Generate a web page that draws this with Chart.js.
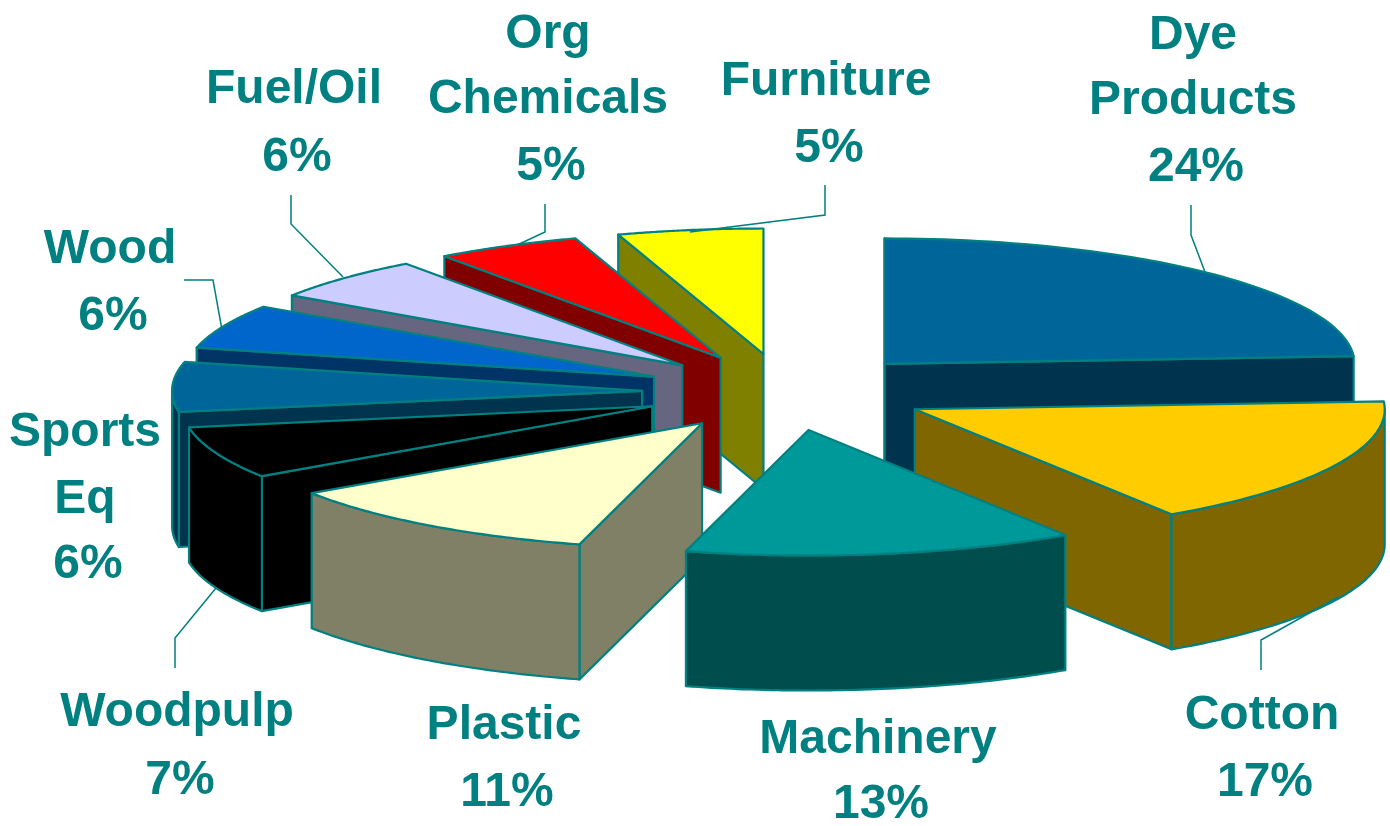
<!DOCTYPE html>
<html>
<head>
<meta charset="utf-8">
<style>
html, body { margin: 0; padding: 0; background: #fff; }
canvas { display: block; }
</style>
<script src="https://cdn.jsdelivr.net/npm/chart.js@4/dist/chart.umd.js"></script>
</head>
<body>
<canvas id="pie" width="1390" height="826"></canvas>
<script>
// data
const categories = ["Dye Products", "Cotton", "Machinery", "Plastic", "Woodpulp", "Sports Eq", "Wood", "Fuel/Oil", "Org Chemicals", "Furniture"];
const shares = [24, 16.8, 13.4, 11.4, 6.7, 6.4, 5.7, 5.6, 5, 5];

// colours: top face, side wall
const topColors = ["#006699", "#ffcc00", "#009999", "#ffffcc", "#000000", "#006699", "#0066cc", "#ccccff", "#ff0000", "#ffff00"];
const wallColors = ["#00334d", "#806600", "#004d4d", "#808066", "#000000", "#00334d", "#003366", "#666680", "#800000", "#808000"];
const edgeColor = "#008080";
const textColor = "#008080";

// look of the 3d pie
const radiusX = 470;
const radiusY = 125.5;
const explode = 144 / 470;      // every slice pulled out the same, part of radius
const depth = 135;              // wall height

// label lines, [center x, center y of each line]
const labelLayout = [
    { x: 1193, y: [36, 101, 168], lines: ["Dye", "Products"] },
    { x: 1262, y: [716, 783], lines: ["Cotton"] },
    { x: 878, y: [740, 805], lines: ["Machinery"] },
    { x: 504, y: [726, 793], lines: ["Plastic"] },
    { x: 177, y: [713, 781], lines: ["Woodpulp"] },
    { x: 85, y: [433, 500, 565], lines: ["Sports", "Eq"] },
    { x: 110, y: [250, 317], lines: ["Wood"] },
    { x: 294, y: [90, 158], lines: ["Fuel/Oil"] },
    { x: 548, y: [35, 100, 167], lines: ["Org", "Chemicals"] },
    { x: 826, y: [82, 149], lines: ["Furniture"] }
];
const percentShift = 3;     // the % rows sit a bit to the right

// leader lines
const leaders = [
    [[1191, 205], [1191, 235], [1205, 272]],
    [[1261, 670], [1261, 640], [1338, 597]],
    [[175, 668], [175, 638], [216, 588]],
    [[184, 280], [213, 280], [222, 330]],
    [[291, 195], [291, 224], [343, 277]],
    [[545, 204], [545, 232], [515, 246]],
    [[825, 185], [825, 215], [690, 232]]
];

// chart.js angle (0 = 3 o'clock) -> page position on the tilted pie
function project(arc, angle, r, drop) {
    const mid = (arc.startAngle + arc.endAngle) / 2;
    const R = arc.outerRadius;
    const px = Math.cos(mid) * R * explode + Math.cos(angle) * r;
    const py = Math.sin(mid) * R * explode + Math.sin(angle) * r;
    return { x: arc.x + px * radiusX / R, y: arc.y + py * radiusY / R + (drop || 0) };
}

// rim of a slice from a to b, following the ellipse in small steps
function traceRim(ctx, arc, a, b, drop, reverse) {
    const steps = 60;
    for (let i = 0; i <= steps; i++) {
        const t = reverse ? (steps - i) / steps : i / steps;
        const p = project(arc, a + (b - a) * t, arc.outerRadius, drop);
        ctx.lineTo(p.x, p.y);
    }
}

function paintFace(ctx, fill) {
    ctx.closePath();
    ctx.fillStyle = fill;
    ctx.fill();
    ctx.lineWidth = 2.2;
    ctx.strokeStyle = edgeColor;
    ctx.stroke();
}

function drawRadialWall(ctx, arc, angle, fill) {
    const apex = project(arc, angle, 0);
    const rim = project(arc, angle, arc.outerRadius);
    ctx.beginPath();
    ctx.moveTo(apex.x, apex.y);
    ctx.lineTo(rim.x, rim.y);
    ctx.lineTo(rim.x, rim.y + depth);
    ctx.lineTo(apex.x, apex.y + depth);
    paintFace(ctx, fill);
}

function drawSlice(ctx, arc, i) {
    const wall = wallColors[i];
    const start = arc.startAngle, end = arc.endAngle;

    // radial walls: canvas angle, sin/cos facing check
    if (Math.cos(start) < 0 || Math.sin(start) < -0.999) drawRadialWall(ctx, arc, start, wall);
    if (Math.cos(end) > 0) drawRadialWall(ctx, arc, end, wall);

    // outer wall, only the front half of the ellipse (canvas angle 0..PI)
    const a = Math.max(start, 0), b = Math.min(end, Math.PI);
    if (b > a) {
        ctx.beginPath();
        traceRim(ctx, arc, a, b, 0, false);
        traceRim(ctx, arc, a, b, depth, true);
        paintFace(ctx, wall);
    }

    // top
    const apex = project(arc, start, 0);
    ctx.beginPath();
    ctx.moveTo(apex.x, apex.y);
    traceRim(ctx, arc, start, end, 0, false);
    paintFace(ctx, topColors[i]);
}

const pie3d = {
    id: 'pie3d',
    beforeDatasetDraw(chart, args) {
        const ctx = chart.ctx;
        const arcs = args.meta.data.map((arc, i) => ({ arc, i }));
        // back slices first
        arcs.sort((p, q) => Math.sin((p.arc.startAngle + p.arc.endAngle) / 2) - Math.sin((q.arc.startAngle + q.arc.endAngle) / 2));
        ctx.save();
        ctx.lineJoin = 'round';
        arcs.forEach(p => drawSlice(ctx, p.arc, p.i));
        ctx.restore();
        return false;   // slices are done here, skip the flat pie
    },
    afterDraw(chart) {
        const ctx = chart.ctx;
        ctx.save();
        ctx.strokeStyle = edgeColor;
        ctx.lineWidth = 1.5;
        leaders.forEach(pts => {
            ctx.beginPath();
            pts.forEach((p, k) => k ? ctx.lineTo(p[0], p[1]) : ctx.moveTo(p[0], p[1]));
            ctx.stroke();
        });
        ctx.fillStyle = textColor;
        ctx.font = 'bold 48px "Liberation Sans"';
        ctx.textAlign = 'center';
        ctx.textBaseline = 'middle';
        labelLayout.forEach((lab, i) => {
            lab.lines.forEach((row, k) => ctx.fillText(row, lab.x, lab.y[k]));
            ctx.fillText(Math.round(shares[i]) + '%', lab.x + percentShift, lab.y[lab.lines.length]);
        });
        ctx.restore();
    }
};

new Chart(document.getElementById("pie"), {
    type: "pie",
    data: {
        labels: categories,
        datasets: [{
            data: shares,
            backgroundColor: topColors,
            borderWidth: 0
        }]
    },
    options: {
        responsive: false,
        animation: false,
        layout: {
            padding: { left: 182, right: 0, top: 0, bottom: 42 }   // pie center ends up at 786,392
        },
        plugins: {
            legend: { display: false },
            tooltip: { enabled: false }
        }
    },
    plugins: [pie3d]
});
</script>
</body>
</html>
